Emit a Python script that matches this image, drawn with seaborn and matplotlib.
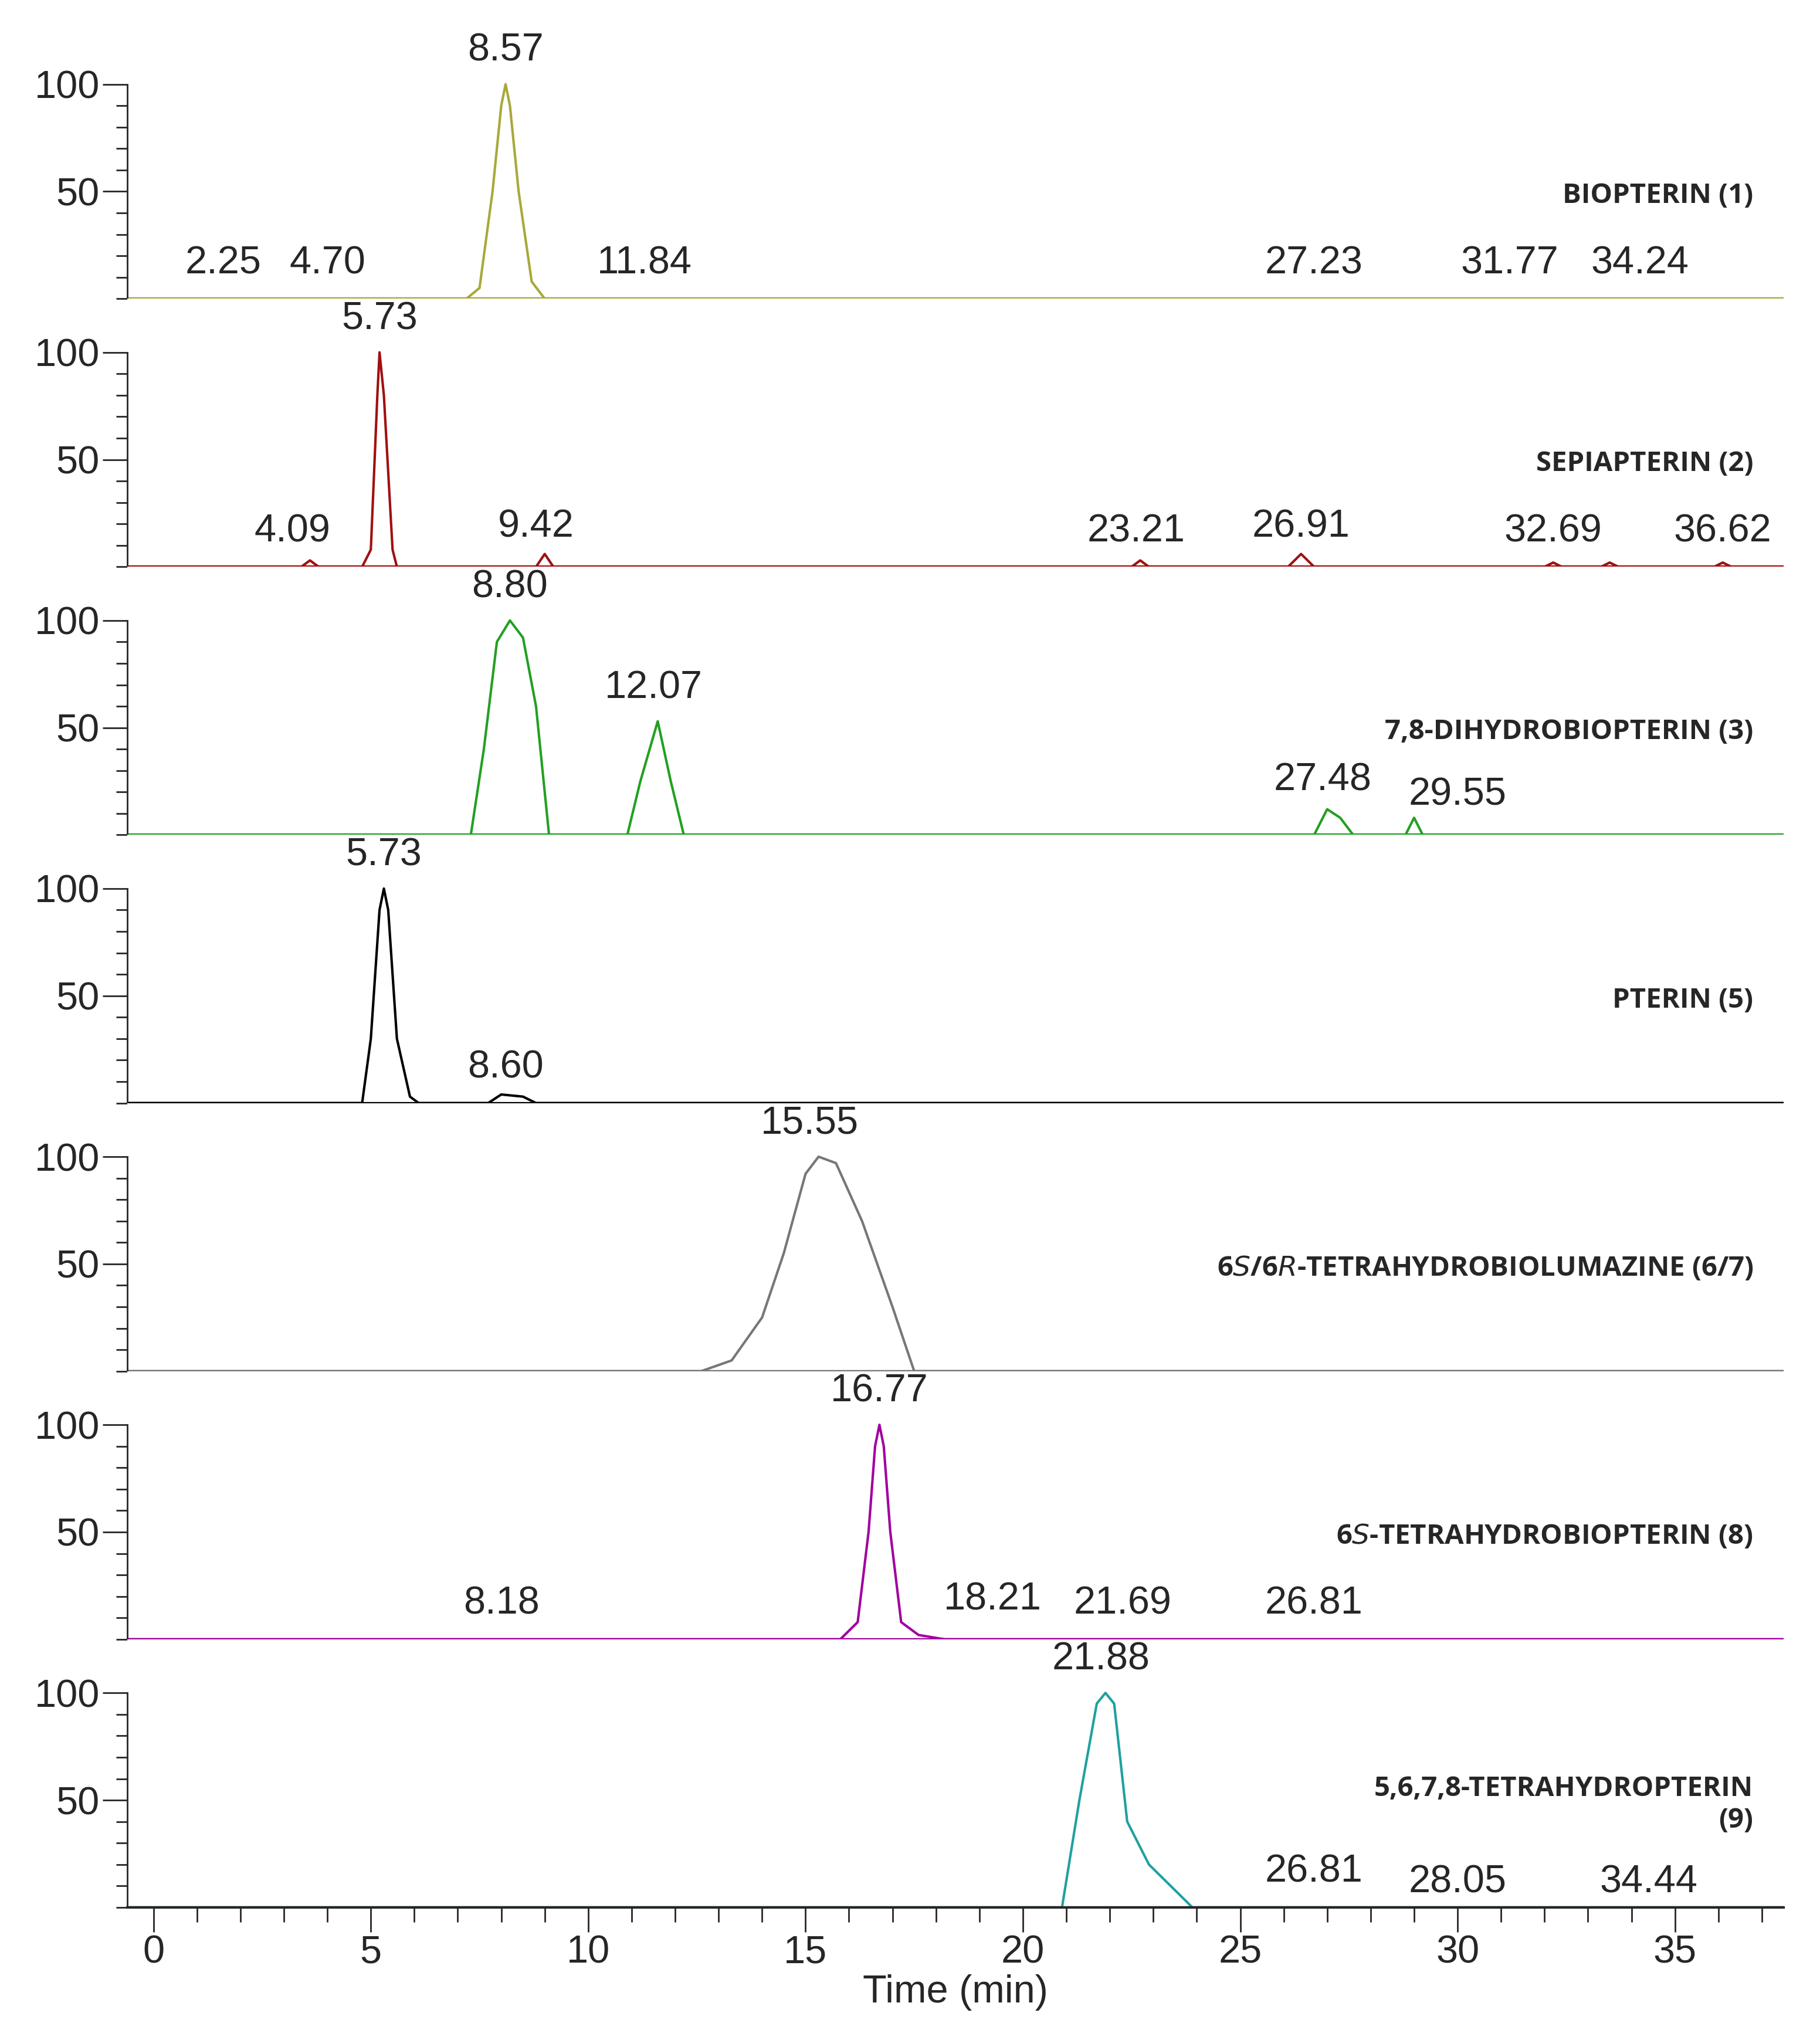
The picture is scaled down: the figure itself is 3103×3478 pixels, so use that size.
import matplotlib
matplotlib.use("Agg")
import matplotlib.pyplot as plt
import seaborn as sns
import pandas as pd
from matplotlib.ticker import MultipleLocator, FixedLocator

sns.set_style("white")
plt.rcParams["font.family"] = "Liberation Sans"

# trace vertices (time in min, relative abundance %)
t1 = [-0.6, 7.2, 7.5, 7.8, 8.0, 8.1, 8.2, 8.4, 8.7, 9.0, 37.5]
y1 = [0, 0, 5, 50, 90, 100, 90, 50, 8, 0, 0]
t2 = [-0.6, 3.4, 3.6, 3.8, 4.8, 5.0, 5.15, 5.2, 5.3, 5.5, 5.6, 8.8, 9.0, 9.2, 22.5, 22.7, 22.9, 26.1, 26.4, 26.7, 32.0, 32.2, 32.4, 33.3, 33.5, 33.7, 35.9, 36.1, 36.3, 37.5]
y2 = [0, 0, 3, 0, 0, 8, 80, 100, 80, 8, 0, 0, 6, 0, 0, 3, 0, 0, 6, 0, 0, 2, 0, 0, 2, 0, 0, 2, 0, 0]
t3 = [-0.6, 7.3, 7.6, 7.9, 8.2, 8.5, 8.8, 9.1, 10.9, 11.2, 11.6, 11.9, 12.2, 26.7, 27.0, 27.3, 27.6, 28.8, 29.0, 29.2, 37.5]
y3 = [0, 0, 40, 90, 100, 92, 60, 0, 0, 25, 53, 25, 0, 0, 12, 8, 0, 0, 8, 0, 0]
t4 = [-0.6, 4.8, 5.0, 5.2, 5.3, 5.4, 5.6, 5.9, 6.1, 7.7, 8.0, 8.5, 8.8, 37.5]
y4 = [0, 0, 30, 90, 100, 90, 30, 3, 0, 0, 4, 3, 0, 0]
t5 = [-0.6, 12.6, 13.3, 14.0, 14.5, 15.0, 15.3, 15.7, 16.3, 17.0, 17.5, 37.5]
y5 = [0, 0, 5, 25, 55, 92, 100, 97, 70, 30, 0, 0]
t6 = [-0.6, 15.8, 16.2, 16.45, 16.6, 16.7, 16.8, 16.95, 17.2, 17.6, 18.2, 37.5]
y6 = [0, 0, 8, 50, 90, 100, 90, 50, 8, 2, 0, 0]
t7 = [-0.6, 20.9, 21.3, 21.7, 21.9, 22.1, 22.4, 22.9, 23.9, 37.5]
y7 = [0, 0, 50, 95, 100, 95, 40, 20, 0, 0]

# peak labels: (time position, height, text)
lab1_t = [8.1, 1.6, 4.0, 11.3, 26.7, 31.2, 34.2]
lab1_y = [107, 8, 8, 8, 8, 8, 8]
lab1_s = ["8.57", "2.25", "4.70", "11.84", "27.23", "31.77", "34.24"]
lab2_t = [5.2, 3.2, 8.8, 22.6, 26.4, 32.2, 36.1]
lab2_y = [107, 8, 10, 8, 10, 8, 8]
lab2_s = ["5.73", "4.09", "9.42", "23.21", "26.91", "32.69", "36.62"]
lab3_t = [8.2, 11.5, 26.9, 30.0]
lab3_y = [107, 60, 17, 10]
lab3_s = ["8.80", "12.07", "27.48", "29.55"]
lab4_t = [5.3, 8.1]
lab4_y = [107, 8]
lab4_s = ["5.73", "8.60"]
lab5_t = [15.1]
lab5_y = [107]
lab5_s = ["15.55"]
lab6_t = [16.7, 8.0, 19.3, 22.3, 26.7]
lab6_y = [107, 8, 10, 8, 8]
lab6_s = ["16.77", "8.18", "18.21", "21.69", "26.81"]
lab7_t = [21.8, 26.7, 30.0, 34.4]
lab7_y = [107, 8, 3, 3]
lab7_s = ["21.88", "26.81", "28.05", "34.44"]

names = ["BIOPTERIN (1)", "SEPIAPTERIN (2)", "7,8-DIHYDROBIOPTERIN (3)", "PTERIN (5)",
         "6$\\mathit{S}$/6$\\mathit{R}$-TETRAHYDROBIOLUMAZINE (6/7)",
         "6$\\mathit{S}$-TETRAHYDROBIOPTERIN (8)", "5,6,7,8-TETRAHYDROPTERIN\n(9)"]
colors = ["#a8a83a", "#a01010", "#22a022", "#000000", "#777777", "#a000a0", "#20a0a0"]

traces = [(t1, y1), (t2, y2), (t3, y3), (t4, y4), (t5, y5), (t6, y6), (t7, y7)]
labels = [(lab1_t, lab1_y, lab1_s), (lab2_t, lab2_y, lab2_s), (lab3_t, lab3_y, lab3_s),
          (lab4_t, lab4_y, lab4_s), (lab5_t, lab5_y, lab5_s), (lab6_t, lab6_y, lab6_s),
          (lab7_t, lab7_y, lab7_s)]

fig, axes = plt.subplots(7, 1, figsize=(31.03, 34.78), dpi=100, sharex=True)
fig.subplots_adjust(left=0.07, right=0.98, top=0.985, bottom=0.065, hspace=0.0)

fs = 48
for i, ax in enumerate(axes):
    t, y = traces[i]
    df = pd.DataFrame({"t": t, "y": y})
    sns.lineplot(data=df, x="t", y="y", ax=ax, color=colors[i], lw=3, sort=False)
    ax.axhline(0, color="black", lw=3, zorder=0)
    ax.plot([-0.6, 37.5], [0, 0], color=colors[i], lw=3, zorder=1)
    lt, ly, ls = labels[i]
    for a, b, s in zip(lt, ly, ls):
        ax.text(a, b, s, ha="center", va="bottom", fontsize=fs)
    ax.text(36.8, 48, names[i], ha="right", va="center", fontsize=34,
            fontweight="bold", family="Open Sans")
    ax.set_xlim(-0.6, 37.5)
    ax.set_ylim(0, 125)
    ax.set_xlabel("")
    ax.set_ylabel("")
    for sp in ["top", "right", "bottom"]:
        ax.spines[sp].set_visible(False)
    ax.spines["left"].set_bounds(0, 100)
    ax.spines["left"].set_linewidth(2)
    ax.set_yticks([50, 100])
    ax.set_yticklabels(["50", "100"], fontsize=fs)
    ax.yaxis.set_minor_locator(FixedLocator(list(range(0, 101, 10))))
    ax.tick_params(axis="y", which="major", left=True, length=30, width=2, pad=4)
    ax.tick_params(axis="y", which="minor", left=True, length=14, width=2)
    ax.tick_params(axis="x", which="both", bottom=False)

ax = axes[-1]
ax.spines["bottom"].set_visible(True)
ax.spines["bottom"].set_linewidth(3)
ax.set_xticks(range(0, 36, 5))
ax.xaxis.set_minor_locator(MultipleLocator(1))
ax.tick_params(axis="x", which="major", bottom=True, labelbottom=True, length=30,
               width=2, labelsize=fs, direction="out")
ax.tick_params(axis="x", which="minor", bottom=True, length=18, width=2, direction="out")
ax.set_xlabel("Time (min)", fontsize=fs)

fig.savefig("out.png", dpi=100)
